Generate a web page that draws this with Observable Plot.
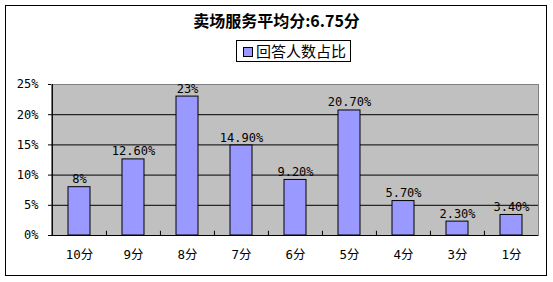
<!DOCTYPE html>
<html>
<head>
<meta charset="utf-8">
<script src="https://cdn.jsdelivr.net/npm/d3@7"></script>
<script src="https://cdn.jsdelivr.net/npm/@observablehq/plot@0.6"></script>
<style>
  body { margin: 0; background: #fff; }
  #wrap { position: relative; width: 553px; height: 282px; overflow: hidden; }
  #border { position: absolute; left: 5px; top: 5px; width: 540px; height: 269px; border: 1px solid #000; }
  #title { position: absolute; left: 0; width: 553px; top: 10px; text-align: center;
    font: bold 16px "Noto Sans CJK SC", sans-serif; color: #000; line-height: 20px; }
  #legend { position: absolute; left: 236px; top: 40px; width: 115px; height: 22px; border: 1px solid #000;
    font: 15px "Noto Sans CJK SC", sans-serif; color: #000; line-height: 22px; box-sizing: border-box; background:#fff; }
  #legend .sw { position: absolute; left: 6px; top: 6px; width: 8px; height: 8px; background: #9999ff; border: 1px solid #000; }
  #legend .tx { position: absolute; left: 19px; top: -1px; white-space: nowrap; }
  #chart { position: absolute; left: 0; top: 0; }
</style>
</head>
<body>
<div id="wrap">
  <div id="chart"></div>
  <div id="border"></div>
  <div id="title">卖场服务平均分:6.75分</div>
  <div id="legend"><span class="sw"></span><span class="tx">回答人数占比</span></div>
</div>
<script>
const categories = ["10分", "9分", "8分", "7分", "6分", "5分", "4分", "3分", "1分"];
const values = [8, 12.6, 23, 14.9, 9.2, 20.7, 5.7, 2.3, 3.4];
const valueLabels = ["8%", "12.60%", "23%", "14.90%", "9.20%", "20.70%", "5.70%", "2.30%", "3.40%"];
const yTicks = [0, 5, 10, 15, 20, 25];
const seriesName = "回答人数占比";

const data = categories.map((c, i) => ({cat: c, value: values[i], label: valueLabels[i]}));
const monoFont = "'DejaVu Sans Mono', 'Noto Sans CJK SC', monospace";

const chart = Plot.plot({
  width: 553,
  height: 282,
  marginLeft: 51,
  marginRight: 15,
  marginTop: 84,
  marginBottom: 47,
  style: {fontFamily: monoFont, fontSize: "12px", color: "#000", background: "transparent"},
  x: {type: "band", domain: categories, paddingInner: 0.6, paddingOuter: 0.3, label: null},
  y: {domain: [0, 25], label: null},
  marks: [
    Plot.frame({fill: "#c0c0c0", stroke: "#808080"}),
    Plot.gridY(yTicks.filter(t => t > 0 && t < 25), {stroke: "#000", strokeOpacity: 1}),
    Plot.ruleX(categories.slice(1), {x: d => d, y1: 0, y2: 0.7, dx: -27.05, stroke: "#000"}),
    Plot.barY(data, {x: "cat", y: "value", fill: "#9999ff", stroke: "#000", strokeWidth: 1}),
    Plot.text(data, {x: "cat", y: "value", text: "label", lineAnchor: "bottom", dy: -4, fontFamily: monoFont, fontSize: 12, fill: "#000"}),
    Plot.ruleY([0], {stroke: "#000"}),
    Plot.axisY({ticks: yTicks, tickFormat: d => d + "%", tickSize: 3, tickPadding: 10, stroke: "#000", fontFamily: monoFont, fontSize: 12}),
    Plot.ruleX([categories[0]], {x: d => d, dx: -27.05, stroke: "#000"}),
    Plot.axisX({tickSize: 0, tickPadding: 15, fontFamily: monoFont, fontSize: 12.5})
  ]
});
document.getElementById("chart").appendChild(chart);
</script>
</body>
</html>
